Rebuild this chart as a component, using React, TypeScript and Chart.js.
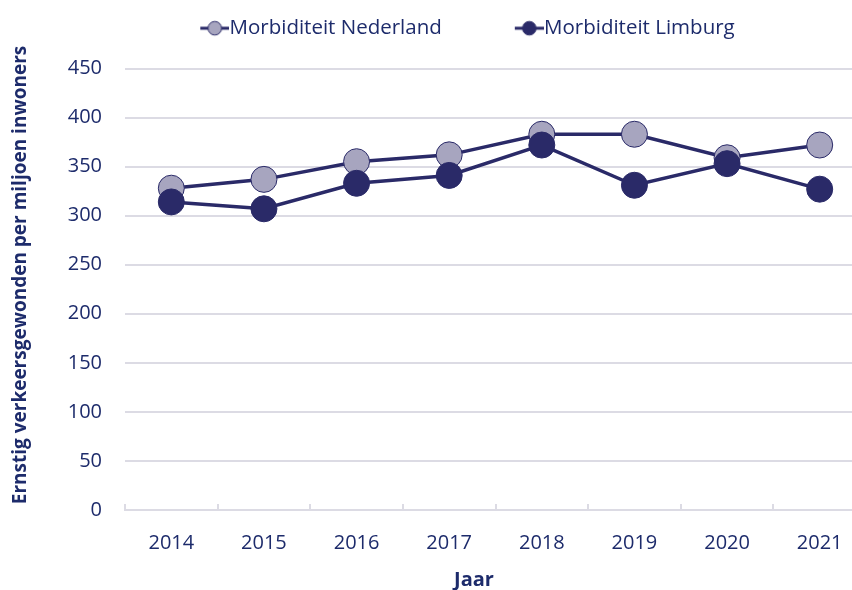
import { useEffect, useRef } from "react";
import { Chart, registerables } from "chart.js";

Chart.register(...registerables);

const years = ["2014", "2015", "2016", "2017", "2018", "2019", "2020", "2021"];
const nederland = [328, 337, 355, 362, 383, 383, 359, 372];
const limburg = [314, 307, 333, 341, 372, 331, 353, 327];
const seriesNames = ["Morbiditeit Nederland", "Morbiditeit Limburg"];
const yMin = 0;
const yMax = 450;
const yStep = 50;
const xTitle = "Jaar";
const yTitle = "Ernstig verkeersgewonden per miljoen inwoners";

const NAVY_TEXT = "#1d2b6b";
const NAVY = "#2a2a68";
const LIGHT = "#a7a5bf";
const GRID = "#dcdbe4";
const FONT = "'Open Sans', sans-serif";

const CANVAS_W = 880;
const CANVAS_H = 590;
const PAD_L = 0;
const PAD_R = 4;
const PAD_T = 4;
const PLOT_LEFT = 125;
const PLOT_BOTTOM = 510;
const LEGEND_BOX = 78;

function makeIcon(fill: string): HTMLCanvasElement {
  const c = document.createElement("canvas");
  const w = LEGEND_BOX + 20;
  const h = 18;
  c.width = w;
  c.height = h;
  const ctx = c.getContext("2d")!;
  const iconW = 29;
  ctx.strokeStyle = NAVY;
  ctx.lineWidth = 3;
  ctx.beginPath();
  ctx.moveTo(w - iconW, h / 2);
  ctx.lineTo(w, h / 2);
  ctx.stroke();
  ctx.beginPath();
  ctx.arc(w - iconW / 2, h / 2, 6.8, 0, Math.PI * 2);
  ctx.fillStyle = fill;
  ctx.fill();
  ctx.lineWidth = 1;
  ctx.stroke();
  return c;
}

const axisTitles = {
  id: "axisTitles",
  afterDraw(chart: any) {
    const ctx = chart.ctx;
    ctx.save();
    ctx.fillStyle = NAVY_TEXT;
    ctx.textAlign = "center";
    ctx.textBaseline = "middle";
    ctx.font = `bold 20px ${FONT}`;
    ctx.fillText(xTitle, 474, 580);
    ctx.translate(21, 275);
    ctx.rotate(-Math.PI / 2);
    ctx.font = `bold 19px ${FONT}`;
    ctx.fillText(yTitle, 0, 0);
    ctx.restore();
  },
};

export default function App() {
  const ref = useRef<HTMLCanvasElement>(null);

  useEffect(() => {
    const canvas = ref.current!;
    const icons = [makeIcon(LIGHT), makeIcon(NAVY)];
    const chart = new Chart(canvas, {
      type: "line",
      data: {
        labels: years,
        datasets: [
          {
            label: seriesNames[0],
            data: nederland,
            order: 1,
            borderColor: NAVY,
            borderWidth: 3.5,
            backgroundColor: LIGHT,
            pointBackgroundColor: LIGHT,
            pointBorderColor: NAVY,
            pointBorderWidth: 1,
            pointRadius: 13,
            tension: 0,
          },
          {
            label: seriesNames[1],
            data: limburg,
            order: 0,
            borderColor: NAVY,
            borderWidth: 3.5,
            backgroundColor: NAVY,
            pointBackgroundColor: NAVY,
            pointBorderColor: NAVY,
            pointBorderWidth: 1,
            pointRadius: 13,
            tension: 0,
          },
        ],
      },
      options: {
        responsive: false,
        animation: false,
        layout: { padding: { left: PAD_L, right: PAD_R, top: PAD_T, bottom: 0 } },
        plugins: {
          tooltip: { enabled: false },
          title: {
            display: true,
            text: "",
            weight: 500,
            font: { size: 10 },
            padding: { top: 0, bottom: 8 },
          } as any,
          legend: {
            position: "top",
            labels: {
              usePointStyle: true,
              pointStyleWidth: LEGEND_BOX,
              color: NAVY_TEXT,
              font: { family: FONT, size: 20.5 },
              padding: 14,
              sort: (a: any, b: any) => a.datasetIndex - b.datasetIndex,
              generateLabels: (ch: any) => {
                const items = (Chart.defaults as any).plugins.legend.labels.generateLabels(ch);
                items.forEach((it: any) => {
                  it.pointStyle = icons[it.datasetIndex];
                });
                return items;
              },
            },
          },
        },
        scales: {
          x: {
            offset: true,
            grid: {
              display: true,
              offset: true,
              drawOnChartArea: false,
              drawTicks: true,
              tickLength: -6,
              color: GRID,
              lineWidth: 2,
            },
            border: { display: true, color: GRID, width: 2 },
            ticks: { color: NAVY_TEXT, font: { family: FONT, size: 20 }, padding: 27 },
            afterFit: (s: any) => {
              s.height = CANVAS_H - PLOT_BOTTOM;
            },
          },
          y: {
            min: yMin,
            max: yMax,
            ticks: { stepSize: yStep, color: NAVY_TEXT, font: { family: FONT, size: 20 }, padding: 23 },
            grid: { color: GRID, lineWidth: 2, drawTicks: false },
            border: { display: false },
            afterFit: (s: any) => {
              s.width = PLOT_LEFT - PAD_L;
            },
          },
        },
      },
      plugins: [axisTitles],
    });
    return () => chart.destroy();
  }, []);

  return (
    <div
      style={{
        position: "fixed",
        left: 0,
        top: 0,
        width: 852,
        height: 590,
        overflow: "hidden",
        background: "#fff",
      }}
    >
      <canvas
        ref={ref}
        width={CANVAS_W}
        height={CANVAS_H}
        style={{ width: CANVAS_W, height: CANVAS_H, display: "block" }}
      />
    </div>
  );
}
